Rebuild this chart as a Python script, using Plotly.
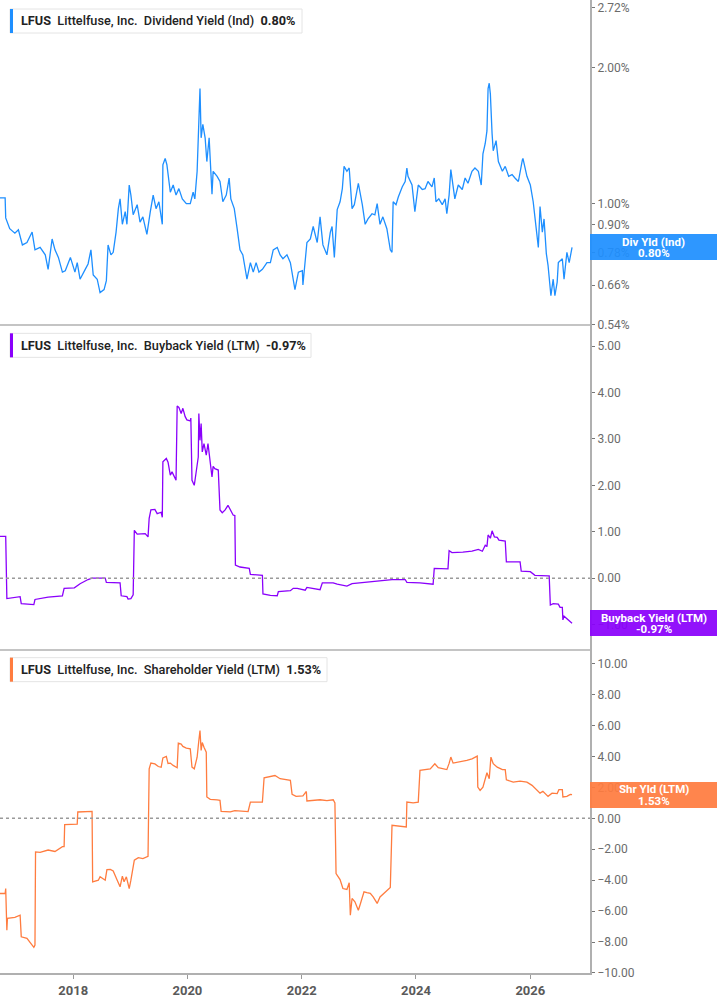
import math
import pandas as pd
import plotly.graph_objects as go
from plotly.subplots import make_subplots

# decimal-year time stamps and values
div_t = [2016.72, 2016.81, 2016.82, 2016.89, 2016.98, 2017.04, 2017.11, 2017.19, 2017.28, 2017.33,
         2017.42, 2017.51, 2017.56, 2017.63, 2017.68, 2017.74, 2017.81, 2017.86, 2017.95, 2018.03,
         2018.07, 2018.12, 2018.21, 2018.26, 2018.31, 2018.35, 2018.42, 2018.47, 2018.54, 2018.58,
         2018.61, 2018.66, 2018.70, 2018.75, 2018.79, 2018.82, 2018.86, 2018.91, 2018.94, 2018.98,
         2019.01, 2019.05, 2019.12, 2019.17, 2019.22, 2019.29, 2019.35, 2019.40, 2019.45, 2019.50,
         2019.56, 2019.57, 2019.61, 2019.64, 2019.70, 2019.75, 2019.80, 2019.85, 2019.91, 2019.98,
         2020.05, 2020.10, 2020.13, 2020.17, 2020.20, 2020.22, 2020.24, 2020.27, 2020.31, 2020.34,
         2020.38, 2020.41, 2020.43, 2020.45, 2020.52, 2020.57, 2020.62, 2020.68, 2020.73, 2020.76,
         2020.82, 2020.87, 2020.92, 2020.97, 2021.04, 2021.10, 2021.15, 2021.20, 2021.25, 2021.31,
         2021.39, 2021.45, 2021.50, 2021.57, 2021.62, 2021.67, 2021.74, 2021.80, 2021.85, 2021.88,
         2021.94, 2022.01, 2022.02, 2022.09, 2022.15, 2022.20, 2022.27, 2022.32, 2022.37, 2022.44,
         2022.50, 2022.53, 2022.57, 2022.62, 2022.67, 2022.71, 2022.74, 2022.79, 2022.83, 2022.88,
         2022.92, 2022.99, 2023.06, 2023.11, 2023.16, 2023.23, 2023.28, 2023.32, 2023.37, 2023.42,
         2023.49, 2023.55, 2023.58, 2023.60, 2023.65, 2023.69, 2023.76, 2023.81, 2023.84, 2023.86,
         2023.93, 2023.98, 2024.04, 2024.11, 2024.16, 2024.21, 2024.28, 2024.32, 2024.35, 2024.40,
         2024.46, 2024.51, 2024.54, 2024.58, 2024.61, 2024.65, 2024.68, 2024.74, 2024.81, 2024.86,
         2024.91, 2024.98, 2025.03, 2025.09, 2025.14, 2025.17, 2025.21, 2025.24, 2025.26, 2025.28,
         2025.30, 2025.33, 2025.35, 2025.40, 2025.44, 2025.51, 2025.56, 2025.62, 2025.68, 2025.73,
         2025.79, 2025.86, 2025.87, 2025.94, 2026.00, 2026.05, 2026.12, 2026.14, 2026.17, 2026.21,
         2026.24, 2026.28, 2026.31, 2026.36, 2026.40, 2026.43, 2026.47, 2026.49, 2026.56, 2026.59,
         2026.64, 2026.68, 2026.73]
div_vals = [1.03, 1.03, 0.93, 0.88, 0.86, 0.875, 0.81, 0.82, 0.865, 0.79,
            0.80, 0.77, 0.715, 0.835, 0.79, 0.76, 0.705, 0.71, 0.76, 0.705,
            0.74, 0.68, 0.715, 0.735, 0.79, 0.695, 0.68, 0.635, 0.645, 0.675,
            0.81, 0.77, 0.78, 0.865, 0.975, 1.025, 0.90, 0.96, 0.90, 1.10,
            1.045, 0.945, 0.995, 0.91, 0.935, 0.855, 0.96, 1.045, 0.975, 1.01,
            0.90, 1.22, 1.26, 1.22, 1.06, 1.10, 1.045, 1.08, 1.025, 1.00,
            1.00, 1.06, 1.025, 1.18, 1.52, 1.80, 1.40, 1.50, 1.40, 1.24,
            1.40, 1.18, 1.05, 1.18, 1.15, 1.12, 1.01, 1.045, 1.14, 1.025,
            0.975, 0.88, 0.79, 0.77, 0.68, 0.74, 0.705, 0.74, 0.705, 0.715,
            0.74, 0.74, 0.79, 0.80, 0.77, 0.755, 0.77, 0.74, 0.67, 0.645,
            0.705, 0.71, 0.66, 0.82, 0.835, 0.89, 0.82, 0.935, 0.81, 0.77,
            0.865, 0.89, 0.76, 0.97, 1.01, 1.08, 1.21, 1.18, 1.20, 0.975,
            0.995, 1.11, 0.995, 0.90, 0.925, 0.95, 0.945, 1.00, 0.90, 0.935,
            0.88, 0.79, 0.78, 1.01, 0.995, 1.035, 1.09, 1.12, 1.20, 1.15,
            1.10, 0.96, 1.10, 1.075, 1.08, 1.12, 1.09, 1.14, 1.01, 1.025,
            0.995, 1.025, 0.95, 1.045, 1.19, 1.08, 1.025, 1.10, 1.075, 1.14,
            1.11, 1.18, 1.20, 1.18, 1.10, 1.29, 1.36, 1.45, 1.80, 1.85,
            1.75, 1.43, 1.31, 1.38, 1.24, 1.18, 1.21, 1.15, 1.16, 1.14,
            1.12, 1.25, 1.26, 1.15, 1.10, 1.01, 0.855, 0.80, 0.985, 0.865,
            0.925, 0.775, 0.73, 0.625, 0.68, 0.625, 0.67, 0.74, 0.755, 0.68,
            0.78, 0.74, 0.80]

buy_t = [2016.72, 2016.82, 2016.84, 2017.07, 2017.09, 2017.28, 2017.31, 2017.33, 2017.56, 2017.81,
         2017.84, 2018.02, 2018.12, 2018.26, 2018.33, 2018.56, 2018.58, 2018.82, 2018.84, 2018.94,
         2018.96, 2019.01, 2019.05, 2019.07, 2019.12, 2019.26, 2019.31, 2019.33, 2019.36, 2019.43,
         2019.47, 2019.54, 2019.56, 2019.57, 2019.63, 2019.66, 2019.70, 2019.73, 2019.77, 2019.80,
         2019.82, 2019.85, 2019.89, 2019.92, 2019.96, 2019.99, 2020.05, 2020.06, 2020.08, 2020.12,
         2020.15, 2020.19, 2020.20, 2020.22, 2020.24, 2020.26, 2020.29, 2020.33, 2020.36, 2020.40,
         2020.41, 2020.43, 2020.45, 2020.48, 2020.54, 2020.57, 2020.61, 2020.66, 2020.71, 2020.75,
         2020.80, 2020.83, 2020.84, 2020.92, 2021.04, 2021.08, 2021.10, 2021.31, 2021.32, 2021.45,
         2021.57, 2021.59, 2021.80, 2021.85, 2021.92, 2022.06, 2022.09, 2022.32, 2022.36, 2022.55,
         2022.62, 2022.79, 2022.88, 2023.32, 2023.58, 2023.81, 2023.84, 2024.07, 2024.30, 2024.32,
         2024.56, 2024.58, 2024.63, 2024.82, 2024.98, 2025.09, 2025.16, 2025.21, 2025.24, 2025.26,
         2025.30, 2025.33, 2025.37, 2025.42, 2025.45, 2025.56, 2025.58, 2025.82, 2025.84, 2026.00,
         2026.08, 2026.31, 2026.33, 2026.35, 2026.40, 2026.49, 2026.52, 2026.56, 2026.57, 2026.59,
         2026.64, 2026.70, 2026.73]
buy_vals = [0.90, 0.90, -0.44, -0.40, -0.55, -0.58, -0.57, -0.46, -0.41, -0.38,
            -0.22, -0.21, -0.12, -0.03, 0.00, 0.00, -0.09, -0.10, -0.38, -0.40,
            -0.45, -0.44, -0.36, 1.03, 0.95, 0.96, 0.89, 1.29, 1.47, 1.48,
            1.39, 1.42, 1.31, 2.51, 2.58, 2.50, 2.22, 2.29, 2.20, 2.11,
            3.71, 3.68, 3.55, 3.66, 3.48, 3.41, 3.39, 3.45, 2.11, 2.00,
            2.26, 2.61, 3.55, 2.97, 3.33, 2.72, 2.90, 2.65, 2.90, 2.51,
            2.45, 2.18, 2.41, 2.36, 2.33, 1.47, 1.41, 1.47, 1.57, 1.47,
            1.36, 1.35, 0.28, 0.24, 0.21, 0.21, 0.08, 0.06, -0.34, -0.37,
            -0.38, -0.29, -0.27, -0.22, -0.22, -0.26, -0.20, -0.25, -0.10, -0.10,
            -0.13, -0.17, -0.12, -0.06, -0.03, -0.03, -0.09, -0.10, -0.13, 0.21,
            0.20, 0.59, 0.55, 0.56, 0.58, 0.62, 0.58, 0.71, 0.68, 0.93,
            0.86, 1.02, 0.89, 0.88, 0.82, 0.80, 0.35, 0.35, 0.15, 0.14,
            0.06, 0.05, 0.05, -0.58, -0.55, -0.56, -0.63, -0.63, -0.90, -0.82,
            -0.87, -0.95, -0.97]

shr_t = [2016.72, 2016.81, 2016.82, 2016.84, 2016.85, 2016.98, 2017.07, 2017.09, 2017.19, 2017.24,
         2017.28, 2017.31, 2017.33, 2017.34, 2017.42, 2017.56, 2017.68, 2017.81, 2017.84, 2017.85,
         2018.07, 2018.08, 2018.33, 2018.34, 2018.44, 2018.47, 2018.56, 2018.59, 2018.65, 2018.70,
         2018.77, 2018.82, 2018.86, 2018.89, 2018.93, 2018.98, 2019.01, 2019.07, 2019.14, 2019.22,
         2019.31, 2019.33, 2019.36, 2019.43, 2019.49, 2019.54, 2019.57, 2019.63, 2019.66, 2019.70,
         2019.75, 2019.82, 2019.84, 2019.89, 2019.92, 2019.98, 2020.05, 2020.08, 2020.12, 2020.17,
         2020.20, 2020.22, 2020.24, 2020.26, 2020.29, 2020.33, 2020.34, 2020.40, 2020.52, 2020.57,
         2020.59, 2020.75, 2020.83, 2021.06, 2021.10, 2021.31, 2021.34, 2021.45, 2021.53, 2021.62,
         2021.71, 2021.80, 2021.83, 2021.90, 2022.02, 2022.08, 2022.09, 2022.32, 2022.44, 2022.55,
         2022.58, 2022.60, 2022.67, 2022.72, 2022.79, 2022.83, 2022.85, 2022.88, 2022.93, 2022.99,
         2023.02, 2023.09, 2023.14, 2023.20, 2023.25, 2023.32, 2023.37, 2023.46, 2023.55, 2023.58,
         2023.83, 2023.84, 2023.95, 2024.04, 2024.07, 2024.25, 2024.33, 2024.39, 2024.51, 2024.54,
         2024.58, 2024.61, 2024.65, 2024.77, 2024.89, 2024.98, 2025.07, 2025.08, 2025.12, 2025.17,
         2025.24, 2025.28, 2025.31, 2025.35, 2025.42, 2025.51, 2025.56, 2025.58, 2025.70, 2025.82,
         2025.94, 2026.03, 2026.12, 2026.17, 2026.22, 2026.31, 2026.38, 2026.47, 2026.50, 2026.56,
         2026.57, 2026.64, 2026.70, 2026.73]
shr_vals = [-4.86, -4.86, -4.54, -7.23, -6.47, -6.40, -6.26, -7.66, -7.76, -7.98,
            -8.19, -8.34, -8.19, -2.17, -2.20, -2.05, -2.14, -1.83, -1.83, -0.41,
            -0.37, 0.41, 0.45, -4.11, -4.00, -3.78, -4.00, -3.31, -3.30, -3.40,
            -4.00, -4.43, -3.74, -4.10, -3.78, -4.54, -4.00, -2.71, -2.54, -2.60,
            -2.45, 3.20, 3.57, 3.52, 3.35, 3.30, 3.91, 4.00, 3.55, 3.57,
            3.42, 3.27, 4.86, 4.80, 4.65, 4.54, 4.50, 3.31, 3.20, 3.95,
            5.03, 5.68, 4.39, 4.90, 4.60, 4.28, 1.38, 1.23, 1.20, 1.16,
            0.45, 0.42, 0.50, 0.44, 1.05, 1.05, 2.62, 2.71, 2.77, 2.56,
            2.49, 2.45, 1.55, 1.42, 1.45, 1.74, 1.12, 1.20, 1.14, 1.20,
            0.99, -3.57, -3.96, -4.54, -4.60, -4.17, -6.26, -5.18, -5.40, -5.94,
            -5.60, -4.75, -4.80, -4.85, -5.08, -5.50, -5.08, -4.75, -4.47, -0.45,
            -0.56, 1.05, 1.00, 1.05, 3.10, 3.20, 3.53, 3.27, 3.20, 3.15,
            3.55, 3.96, 3.57, 3.64, 3.74, 3.84, 4.02, 2.02, 1.81, 2.02,
            2.95, 2.56, 3.96, 3.53, 3.31, 3.15, 3.15, 2.49, 2.34, 2.40,
            2.34, 2.13, 1.81, 1.63, 1.75, 1.42, 1.63, 1.60, 1.85, 1.85,
            1.38, 1.42, 1.55, 1.53]

x_span = [2016.72, 2027.045]
div_ticks = [0.54, 0.66, 0.78, 0.90, 1.00, 2.00, 2.72]

BLUE = "#1e8fff"
PURPLE = "#8a00fb"
ORANGE = "#ff7c3f"
TAG_BG = ["rgba(30,143,255,0.93)", "rgba(138,0,251,0.93)", "rgba(255,124,63,0.93)"]
FONT = "Roboto"


def to_dates(years):
    return [pd.Timestamp(int(y), 1, 1) + pd.Timedelta(days=(y - int(y)) * 365.25) for y in years]


fig = make_subplots(rows=3, cols=1, shared_xaxes=True, vertical_spacing=0)

series = [
    (div_t, div_vals, BLUE, "Dividend Yield (Ind)", "Div Yld (Ind)"),
    (buy_t, buy_vals, PURPLE, "Buyback Yield (LTM)", "Buyback Yield (LTM)"),
    (shr_t, shr_vals, ORANGE, "Shareholder Yield (LTM)", "Shr Yld (LTM)"),
]

for i, (t, v, color, name, short) in enumerate(series, start=1):
    fig.add_trace(go.Scatter(x=to_dates(t), y=v, mode="lines",
                             line=dict(color=color, width=1.3), showlegend=False),
                  row=i, col=1)

for i in (2, 3):
    fig.add_hline(y=0, row=i, col=1, line=dict(color="#9a9a9a", width=1.5, dash="dot"))

axis_common = dict(side="right", showline=True, linecolor="#b0b0b0", linewidth=2,
                   ticks="outside", ticklen=3, tickcolor="#777", showgrid=False, zeroline=False,
                   tickfont=dict(family=FONT, size=12, color="#6b6b6b"))
fig.update_yaxes(**axis_common)
fig.update_yaxes(type="log", tickvals=div_ticks, ticktext=[f"{v:.2f}%" for v in div_ticks],
                 range=[math.log10(0.54), math.log10(2.83)], row=1, col=1)
fig.update_yaxes(range=[-1.52, 5.47], tickvals=list(range(-1, 6)), tickformat=".2f",
                 ticksuffix="%", row=2, col=1)
fig.update_yaxes(range=[-10, 10.97], tickvals=list(range(-10, 11, 2)), tickformat=".2f",
                 ticksuffix="%", row=3, col=1)

fig.update_xaxes(range=to_dates(x_span), showline=True, linecolor="#c4c4c4", linewidth=1.5,
                 showgrid=False, zeroline=False)
fig.update_xaxes(ticks="outside", ticklen=4, tickcolor="#999", tick0="2018-01-01",
                 dtick="M24", tickformat="%Y", linecolor="#b0b0b0", linewidth=2,
                 tickfont=dict(family=FONT, size=13, color="#5a5a5a", weight="bold"),
                 row=3, col=1)

# panel geometry in pixels (plot area is 590 x 973)
PW, PH = 590.0, 973.0
panel_h = PH / 3
box_right = [302, 311, 327]

for i, (t, v, color, name, short) in enumerate(series):
    top = i * panel_h
    y0 = (PH - (top + 33)) / PH
    y1 = (PH - (top + 9)) / PH
    fig.add_shape(type="rect", xref="paper", yref="paper", x0=10 / PW, x1=box_right[i] / PW,
                  y0=y0, y1=y1, line=dict(color="#e4e4e4", width=1), fillcolor="white")
    fig.add_shape(type="rect", xref="paper", yref="paper", x0=10 / PW, x1=13 / PW,
                  y0=y0, y1=y1, line=dict(width=0), fillcolor=color)
    fig.add_annotation(xref="paper", yref="paper", x=19 / PW, y=(y0 + y1) / 2,
                       xanchor="left", yanchor="middle", showarrow=False,
                       text=f"<b>LFUS</b>  Littelfuse, Inc.  {name}  <b>{v[-1]:.2f}%</b>",
                       font=dict(family=FONT, size=12.7, color="#222", weight=500))

    # last-value tag on the right axis
    yref = "y" if i == 0 else f"y{i + 1}"
    last = math.log10(v[-1]) if i == 0 else v[-1]
    xc = (1.0 + 717 / PW) / 2
    fig.add_annotation(xref="paper", yref=yref, x=xc, y=last, xanchor="center",
                       yanchor="middle", showarrow=False, text=" ",
                       width=127, height=26, bgcolor=TAG_BG[i], borderpad=0, borderwidth=0,
                       font=dict(size=4))
    for text, shift in ((short, 5.5), (f"{v[-1]:.2f}%", -6)):
        fig.add_annotation(xref="paper", yref=yref, x=xc, y=last, xanchor="center",
                           yanchor="middle", yshift=shift, showarrow=False,
                           text=f"<b>{text}</b>",
                           font=dict(family=FONT, size=11.5, color="white"))

fig.update_layout(width=717, height=1005, margin=dict(l=0, r=127, t=0, b=32),
                  plot_bgcolor="white", paper_bgcolor="white", showlegend=False,
                  font=dict(family=FONT))

fig.write_html("out.html", config={"displayModeBar": False},
               post_script="document.body.style.margin = '0';")
